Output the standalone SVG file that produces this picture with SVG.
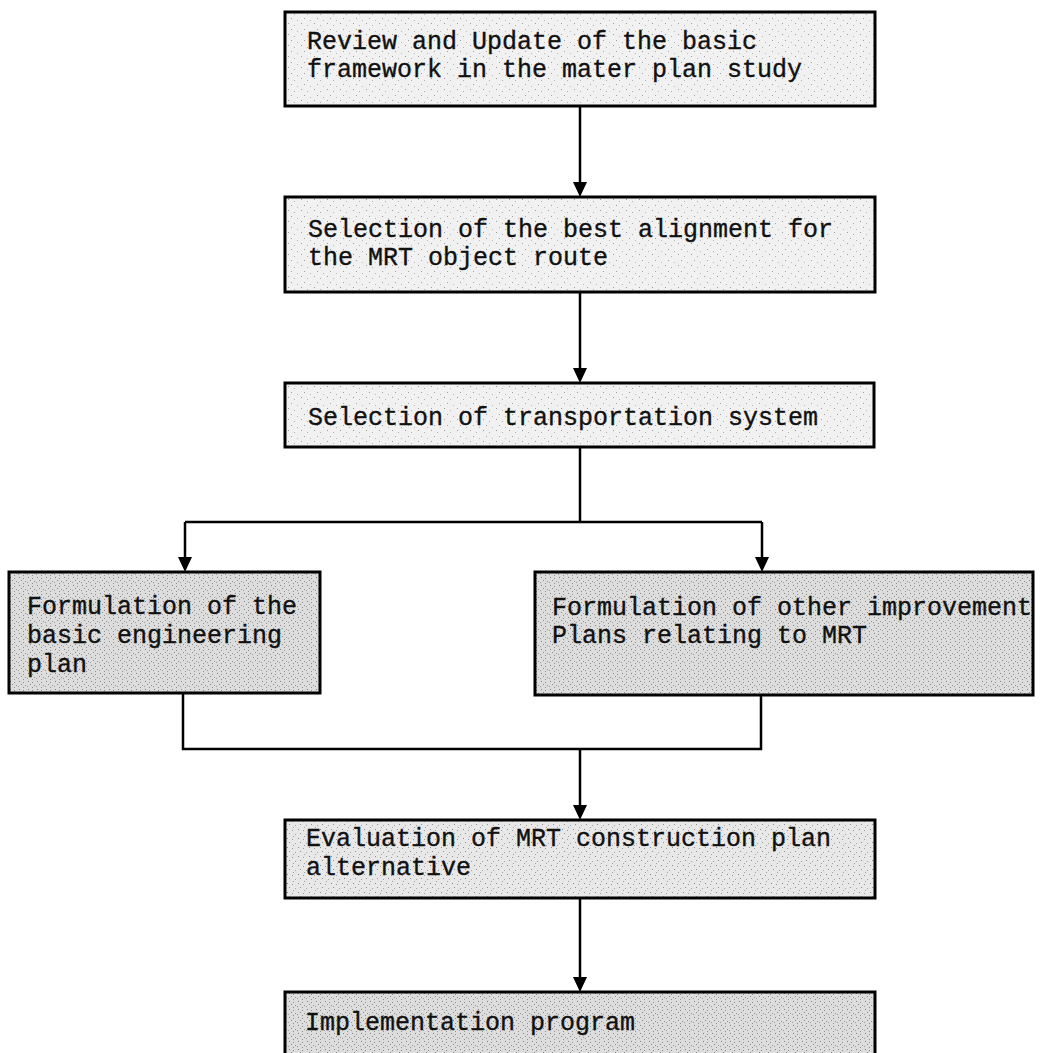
<svg xmlns="http://www.w3.org/2000/svg" width="1047" height="1053" viewBox="0 0 1047 1053">
  <defs>
    <marker id="ah" markerWidth="16" markerHeight="16" viewBox="0 -8 16 16" refX="7" refY="0" orient="auto" markerUnits="userSpaceOnUse">
      <path d="M0,-7 L15,0 L0,7 z" fill="#000"/>
    </marker>
    <pattern id="stipLight" width="13" height="11" patternUnits="userSpaceOnUse">
      <rect width="13" height="11" fill="#f1f1f1"/>
      <rect x="2" y="1" width="1" height="1" fill="#9a9a9a"/>
      <rect x="8" y="3" width="1" height="1" fill="#b0b0b0"/>
      <rect x="5" y="7" width="1" height="1" fill="#a0a0a0"/>
      <rect x="11" y="9" width="1" height="1" fill="#b8b8b8"/>
    </pattern>
    <pattern id="stipMid" width="11" height="9" patternUnits="userSpaceOnUse">
      <rect width="11" height="9" fill="#e8e8e8"/>
      <rect x="1" y="1" width="1" height="1" fill="#8a8a8a"/>
      <rect x="6" y="2" width="1" height="1" fill="#9c9c9c"/>
      <rect x="3" y="5" width="1" height="1" fill="#909090"/>
      <rect x="9" y="6" width="1" height="1" fill="#a4a4a4"/>
      <rect x="7" y="8" width="1" height="1" fill="#a0a0a0"/>
    </pattern>
    <pattern id="stipDark" width="9" height="8" patternUnits="userSpaceOnUse">
      <rect width="9" height="8" fill="#dddddd"/>
      <rect x="1" y="1" width="1" height="1" fill="#808080"/>
      <rect x="5" y="2" width="1" height="1" fill="#8c8c8c"/>
      <rect x="3" y="4" width="1" height="1" fill="#888888"/>
      <rect x="7" y="5" width="1" height="1" fill="#949494"/>
      <rect x="0" y="6" width="1" height="1" fill="#9a9a9a"/>
      <rect x="5" y="7" width="1" height="1" fill="#909090"/>
    </pattern>
    <style>
      .box { stroke: #000; stroke-width: 3; }
      .light { fill: url(#stipLight); }
      .mid { fill: url(#stipMid); }
      .dark { fill: url(#stipDark); }
      .t { font-family: "Liberation Mono", "DejaVu Sans Mono", monospace; font-size: 25px; fill: #111; stroke: #111; stroke-width: 0.35; }
      .c { fill: none; stroke: #000; stroke-width: 2.5; }
    </style>
  </defs>
  <rect width="1047" height="1053" fill="#ffffff"/>

  <g id="connectors">
    <path class="c" d="M580,106 V189" marker-end="url(#ah)"/>
    <path class="c" d="M580,292 V375" marker-end="url(#ah)"/>
    <path class="c" d="M580,447 V522 M185,522 H762"/>
    <path class="c" d="M185,522 V564" marker-end="url(#ah)"/>
    <path class="c" d="M762,522 V564" marker-end="url(#ah)"/>
    <path class="c" d="M183,693 V749 H761 V695"/>
    <path class="c" d="M580,749 V812" marker-end="url(#ah)"/>
    <path class="c" d="M580,898 V984" marker-end="url(#ah)"/>
  </g>

  <g id="n1">
    <rect class="box light" x="285" y="12" width="590" height="94"/>
    <text class="t" x="307" y="49">Review and Update of the basic</text>
    <text class="t" x="307" y="77">framework in the mater plan study</text>
  </g>

  <g id="n2">
    <rect class="box light" x="285" y="197" width="590" height="95"/>
    <text class="t" x="308" y="237">Selection of the best alignment for</text>
    <text class="t" x="308" y="265">the MRT object route</text>
  </g>

  <g id="n3">
    <rect class="box light" x="285" y="383" width="589" height="64"/>
    <text class="t" x="308" y="425">Selection of transportation system</text>
  </g>

  <g id="n4">
    <rect class="box dark" x="9" y="572" width="311" height="121"/>
    <text class="t" x="27" y="614">Formulation of the</text>
    <text class="t" x="27" y="643">basic engineering</text>
    <text class="t" x="27" y="672">plan</text>
  </g>

  <g id="n5">
    <rect class="box dark" x="535" y="572" width="498" height="123"/>
    <text class="t" x="552" y="615">Formulation of other improvement</text>
    <text class="t" x="552" y="643">Plans relating to MRT</text>
  </g>

  <g id="n6">
    <rect class="box mid" x="285" y="820" width="590" height="78"/>
    <text class="t" x="306" y="846">Evaluation of MRT construction plan</text>
    <text class="t" x="306" y="875">alternative</text>
  </g>

  <g id="n7">
    <rect class="box dark" x="285" y="992" width="590" height="80"/>
    <text class="t" x="305" y="1030">Implementation program</text>
  </g>
</svg>
